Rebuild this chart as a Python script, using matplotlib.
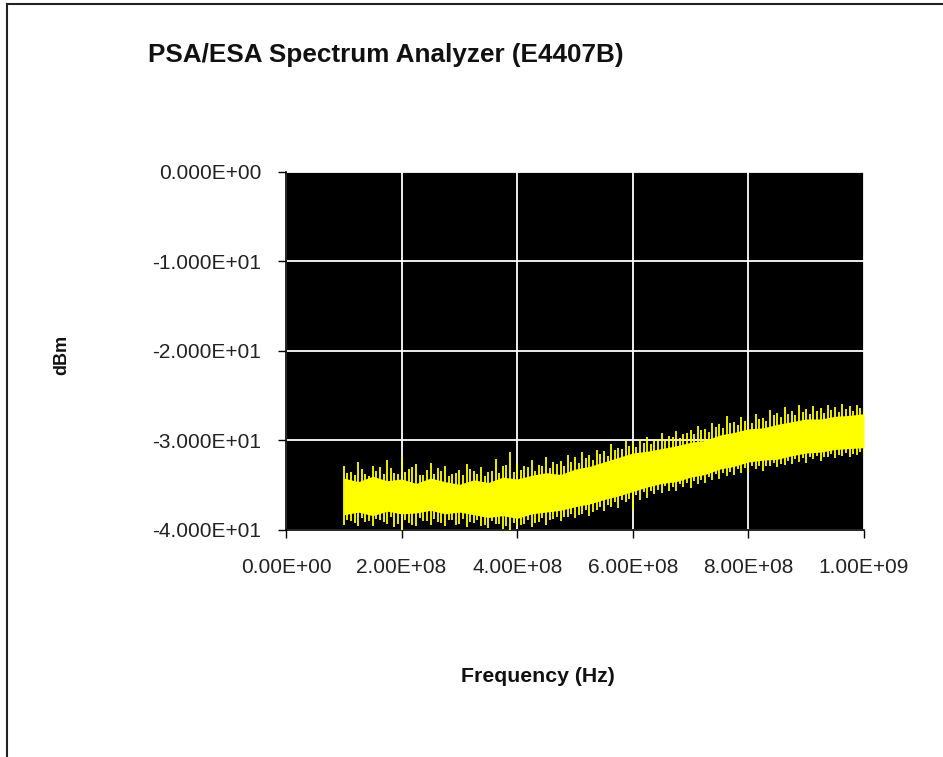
import numpy as np
import matplotlib
matplotlib.use("Agg")
import matplotlib.pyplot as plt
from matplotlib.lines import Line2D

plt.rcParams['font.family'] = ['Liberation Sans', 'DejaVu Sans']

TITLE = "PSA/ESA Spectrum Analyzer (E4407B)"
X_LABEL = "Frequency (Hz)"
Y_LABEL = "dBm"

# core of the noise band, every 25 MHz
core_mhz = [100, 125, 150, 175, 200, 225, 250, 275, 300, 325, 350, 375, 400,
            425, 450, 475, 500, 525, 550, 575, 600, 625, 650, 675, 700, 725,
            750, 775, 800, 825, 850, 875, 900, 925, 950, 975, 1000]
core_top = [-34.2, -34.6, -34.0, -34.5, -34.3, -34.8, -34.2, -34.6, -34.9, -34.4,
            -34.7, -34.1, -34.3, -33.9, -33.6, -33.8, -33.2, -32.9, -32.4, -31.9,
            -31.4, -31.2, -30.9, -30.6, -30.2, -30.0, -29.4, -29.1, -28.7, -28.6,
            -28.2, -27.9, -27.6, -27.6, -27.3, -27.2, -27.0]
core_bot = [-38.3, -38.0, -38.4, -37.9, -38.2, -38.1, -37.8, -38.2, -38.0, -38.3,
            -38.6, -38.4, -38.7, -38.2, -38.0, -37.8, -37.4, -37.1, -36.6, -36.2,
            -35.7, -35.2, -34.8, -34.6, -34.1, -33.8, -33.2, -32.9, -32.4, -32.2,
            -32.1, -31.7, -31.4, -31.3, -31.0, -30.9, -30.8]

# big spikes, every 12.5 MHz
tip_mhz = [100, 112.5, 125, 137.5, 150, 162.5, 175, 187.5, 200, 212.5, 225, 237.5,
           250, 262.5, 275, 287.5, 300, 312.5, 325, 337.5, 350, 362.5, 375, 387.5,
           400, 412.5, 425, 437.5, 450, 462.5, 475, 487.5, 500, 512.5, 525, 537.5,
           550, 562.5, 575, 587.5, 600, 612.5, 625, 637.5, 650, 662.5, 675, 687.5,
           700, 712.5, 725, 737.5, 750, 762.5, 775, 787.5, 800, 812.5, 825, 837.5,
           850, 862.5, 875, 887.5, 900, 912.5, 925, 937.5, 950, 962.5, 975, 987.5, 1000]
tip_top = [-32.9, -33.5, -32.4, -33.8, -32.8, -33.0, -32.2, -33.6, -31.8, -33.2,
           -32.6, -33.9, -32.5, -33.1, -32.9, -33.7, -33.3, -32.6, -33.4, -33.0,
           -33.5, -32.1, -32.8, -31.3, -32.6, -32.9, -32.2, -32.7, -31.9, -32.4,
           -32.3, -31.6, -31.8, -31.3, -31.6, -31.1, -31.2, -30.4, -30.8, -30.0,
           -30.2, -29.8, -29.6, -30.0, -29.2, -29.5, -28.9, -29.3, -28.8, -28.4,
           -28.7, -28.0, -28.2, -27.3, -27.9, -27.4, -27.6, -27.0, -27.5, -26.6,
           -26.9, -26.3, -26.7, -26.0, -26.5, -26.2, -26.4, -26.0, -26.3, -25.9,
           -26.2, -26.0, -26.6]
tip_bot = [-39.4, -39.0, -39.6, -39.1, -39.5, -38.9, -39.3, -39.7, -40.0, -39.2,
           -39.5, -39.0, -39.4, -39.1, -39.6, -38.9, -39.3, -39.7, -39.2, -39.5,
           -39.8, -39.3, -39.9, -40.0, -39.6, -39.3, -39.7, -39.1, -39.4, -38.8,
           -39.0, -38.5, -38.7, -38.2, -38.4, -37.8, -37.9, -37.4, -37.5, -36.9,
           -37.8, -36.6, -36.4, -36.0, -35.9, -35.6, -35.7, -35.2, -35.3, -34.9,
           -34.8, -34.4, -34.3, -34.0, -33.9, -33.6, -33.5, -33.2, -33.4, -32.9,
           -33.0, -32.7, -32.6, -32.4, -32.5, -32.1, -32.3, -31.9, -32.0, -31.7,
           -31.9, -31.6, -31.8]

# smaller spikes in between
tip2_mhz = [106.25, 118.75, 131.25, 143.75, 156.25, 168.75, 181.25, 193.75,
            206.25, 218.75, 231.25, 243.75, 256.25, 268.75, 281.25, 293.75,
            306.25, 318.75, 331.25, 343.75, 356.25, 368.75, 381.25, 393.75,
            406.25, 418.75, 431.25, 443.75, 456.25, 468.75, 481.25, 493.75,
            506.25, 518.75, 531.25, 543.75, 556.25, 568.75, 581.25, 593.75,
            606.25, 618.75, 631.25, 643.75, 656.25, 668.75, 681.25, 693.75,
            706.25, 718.75, 731.25, 743.75, 756.25, 768.75, 781.25, 793.75,
            806.25, 818.75, 831.25, 843.75, 856.25, 868.75, 881.25, 893.75,
            906.25, 918.75, 931.25, 943.75, 956.25, 968.75, 981.25, 993.75]
tip2_top = [-33.6, -33.9, -33.2, -34.0, -33.4, -33.7, -33.1, -33.8, -33.5, -33.0,
            -33.9, -33.3, -33.8, -33.4, -34.0, -33.6, -33.9, -33.2, -33.7, -34.0,
            -33.4, -33.6, -32.7, -33.5, -33.3, -33.0, -33.4, -32.8, -33.1, -32.6,
            -32.9, -32.4, -32.5, -32.0, -32.2, -31.5, -31.7, -31.1, -31.0, -30.6,
            -30.7, -30.3, -30.4, -29.8, -30.0, -29.6, -29.7, -29.2, -29.3, -28.8,
            -29.0, -28.5, -28.6, -28.1, -28.3, -27.8, -28.0, -27.6, -27.8, -27.2,
            -27.4, -27.0, -27.2, -26.8, -27.0, -26.7, -26.9, -26.6, -26.8, -26.5,
            -26.7, -26.4]
tip2_bot = [-38.9, -39.2, -38.7, -39.0, -38.8, -39.1, -38.6, -39.3, -38.9, -39.4,
            -38.7, -39.0, -38.8, -39.2, -38.9, -39.4, -38.8, -39.1, -38.9, -39.4,
            -39.0, -39.3, -39.5, -39.2, -39.4, -38.9, -39.2, -38.7, -38.9, -38.5,
            -38.6, -38.2, -38.3, -37.8, -38.0, -37.4, -37.2, -36.9, -36.6, -36.5,
            -36.1, -35.8, -35.6, -35.5, -35.1, -35.2, -34.9, -34.7, -34.5, -34.4,
            -34.1, -33.8, -33.6, -33.5, -33.2, -33.1, -32.9, -32.8, -32.9, -32.5,
            -32.6, -32.3, -32.1, -32.0, -31.9, -31.7, -31.8, -31.5, -31.6, -31.4,
            -31.5, -31.3]

x_ticks = [0, 2e8, 4e8, 6e8, 8e8, 1e9]
x_ticklabels = ["0.00E+00", "2.00E+08", "4.00E+08", "6.00E+08", "8.00E+08", "1.00E+09"]
y_ticks = [0, -10, -20, -30, -40]
y_ticklabels = ["0.000E+00", "-1.000E+01", "-2.000E+01", "-3.000E+01", "-4.000E+01"]

core_f = np.array(core_mhz) * 1e6
tip_f = np.array(tip_mhz) * 1e6
tip2_f = np.array(tip2_mhz) * 1e6

fig = plt.figure(figsize=(9.43, 7.57), dpi=100)
ax = fig.add_axes([0.3033, 0.2999, 0.6129, 0.4729])
ax.set_facecolor("black")

ax.fill_between(core_f, core_bot, core_top, color="#ffff00", linewidth=0, zorder=3)
ax.vlines(tip_f, tip_bot, tip_top, color="#ffff00", linewidth=1.3, zorder=3)
ax.vlines(tip2_f, tip2_bot, tip2_top, color="#ffff00", linewidth=1.3, zorder=3)

ax.set_xlim(0, 1e9)
ax.set_ylim(-40, 0)
ax.set_xticks(x_ticks)
ax.set_xticklabels(x_ticklabels)
ax.set_yticks(y_ticks)
ax.set_yticklabels(y_ticklabels)
ax.grid(True, color="white", linewidth=1.3, zorder=1)
ax.set_axisbelow(True)
ax.tick_params(axis="both", labelsize=15, colors="black", labelcolor="#222222",
               length=6, width=1)
ax.tick_params(axis="x", pad=14)
ax.tick_params(axis="y", pad=12)
for side in ["top", "right"]:
    ax.spines[side].set_visible(False)
for side in ["left", "bottom"]:
    ax.spines[side].set_color("black")
    ax.spines[side].set_linewidth(1.2)

fig.text(148 / 943, 1 - 55 / 757, TITLE, fontsize=18.8, fontweight="bold",
         ha="left", va="center", color="#111111")
fig.text(62 / 943, 1 - 355 / 757, Y_LABEL, fontsize=13, fontweight="bold",
         rotation=90, ha="center", va="center", color="#111111")
fig.text(538 / 943, 1 - 677 / 757, X_LABEL, fontsize=15.3, fontweight="bold",
         ha="center", va="center", color="#111111")

# outer chart frame (top and left edges visible)
fig.add_artist(Line2D([7 / 943, 1.0], [1 - 4 / 757, 1 - 4 / 757],
                      transform=fig.transFigure, color="#222222", linewidth=1.5))
fig.add_artist(Line2D([7 / 943, 7 / 943], [1 - 4 / 757, 0.0],
                      transform=fig.transFigure, color="#222222", linewidth=1.5))

fig.savefig("out.png", dpi=100)
